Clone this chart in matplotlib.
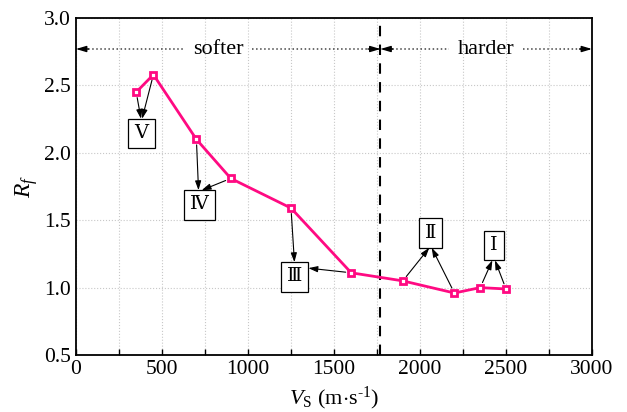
import matplotlib
matplotlib.use("Agg")
import matplotlib.pyplot as plt
from matplotlib.ticker import MultipleLocator

plt.rcParams['font.family'] = ['Liberation Serif', 'DejaVu Serif', 'Noto Sans CJK SC']
plt.rcParams['mathtext.fontset'] = 'custom'
plt.rcParams['mathtext.rm'] = 'Liberation Serif'
plt.rcParams['mathtext.it'] = 'Liberation Serif:italic'

# Shear-wave velocity vs. Rf
vs = [350, 450, 700, 900, 1250, 1600, 1900, 2200, 2350, 2500]
rf = [2.45, 2.58, 2.10, 1.81, 1.59, 1.11, 1.05, 0.96, 1.00, 0.99]

boundary_vs = 1770

# Class labels: text, box centre (Vs, Rf), indices of the points they refer to
class_names = ['Ⅴ', 'Ⅳ', 'Ⅲ', 'Ⅱ', 'Ⅰ']
class_pos = [(381, 2.143), (716, 1.613), (1270, 1.079), (2061, 1.405), (2430, 1.312)]
class_members = [(0, 1), (2, 3), (4, 5), (6, 7), (8, 9)]
# where each arrow meets its box (fractions of the box extent)
class_anchor = [((0.48, 1.0), (0.52, 1.0)),
                ((0.48, 1.0), (0.58, 1.0)),
                ((0.5, 1.0), (1.0, 0.8)),
                ((0.45, 0.0), (0.55, 0.0)),
                ((0.42, 0.0), (0.55, 0.0))]

zone_labels = ['softer', 'harder']
zone_text_x = [826, 2383]

fig = plt.figure(figsize=(6.27, 4.12), dpi=100)
ax = fig.add_axes([0.1212, 0.1383, 0.823, 0.818])

ax.set_xlim(0, 3000)
ax.set_ylim(0.5, 3.0)
ax.xaxis.set_major_locator(MultipleLocator(500))
ax.xaxis.set_minor_locator(MultipleLocator(250))
ax.yaxis.set_major_locator(MultipleLocator(0.5))
ax.yaxis.set_major_formatter(matplotlib.ticker.FormatStrFormatter('%.1f'))

ax.grid(True, which='both', axis='x', color='#c8c8c8', linestyle=':', linewidth=0.8)
ax.grid(True, which='major', axis='y', color='#c8c8c8', linestyle=':', linewidth=0.8)
ax.set_axisbelow(True)

ax.tick_params(axis='both', which='both', direction='in', labelsize=15.5,
               top=False, right=False)
ax.tick_params(axis='x', which='major', length=4, width=1)
ax.tick_params(axis='x', which='minor', length=4, width=1)
ax.tick_params(axis='y', which='major', length=0)
for s in ax.spines.values():
    s.set_linewidth(1.3)

ax.plot(vs, rf, color='#ff0a82', linewidth=2, marker='s', markersize=5,
        markerfacecolor='white', markeredgecolor='#ff0a82', markeredgewidth=2,
        zorder=4)

ax.axvline(boundary_vs, color='black', linestyle=(0, (5, 4)), linewidth=1.5, zorder=3)

ax.set_xlabel(r'$V_{\mathrm{S}}$ (m$\cdot$s$^{\text{-1}}$)', fontsize=16, labelpad=4)
ax.set_ylabel(r'$R_f$', fontsize=17, labelpad=3)

# class boxes with arrows from their points
for name, (cx, cy), members, anchors in zip(class_names, class_pos, class_members, class_anchor):
    t = ax.text(cx, cy, name, fontsize=14, ha='center', va='center', zorder=5,
                bbox=dict(boxstyle='square,pad=0.32', facecolor='white',
                          edgecolor='black', linewidth=0.9))
    patch = t.get_bbox_patch()
    for idx, anc in zip(members, anchors):
        ax.annotate('', xy=anc, xycoords=patch, xytext=(vs[idx], rf[idx]),
                    textcoords='data',
                    arrowprops=dict(arrowstyle='-|>,head_length=0.55,head_width=0.18',
                                    color='black', lw=0.8, shrinkA=4, shrinkB=0),
                    zorder=3)

# zone annotations along the top
zone_y = 2.77
zone_spans = [(0, boundary_vs), (boundary_vs, 3000)]
zone_texts = []
for lab, tx in zip(zone_labels, zone_text_x):
    zone_texts.append(ax.text(tx, zone_y, lab, fontsize=16, ha='center', va='center'))

fig.canvas.draw()
inv = ax.transData.inverted()
gap_px = 9
for t, (x0, x1) in zip(zone_texts, zone_spans):
    bb = t.get_window_extent()
    left = inv.transform((bb.x0 - gap_px, 0))[0]
    right = inv.transform((bb.x1 + gap_px, 0))[0]
    ax.plot([x0, left], [zone_y, zone_y], color='#444444', linestyle=':', linewidth=1.1)
    ax.plot([right, x1], [zone_y, zone_y], color='#444444', linestyle=':', linewidth=1.1)
    for end, off in ((x0, 9), (x1, -9)):
        ax.annotate('', xy=(end, zone_y), xytext=(off, 0), textcoords='offset points',
                    arrowprops=dict(arrowstyle='-|>,head_length=0.6,head_width=0.18',
                                    color='black', lw=1, shrinkA=0, shrinkB=0))

fig.savefig('out.png', dpi=100)
